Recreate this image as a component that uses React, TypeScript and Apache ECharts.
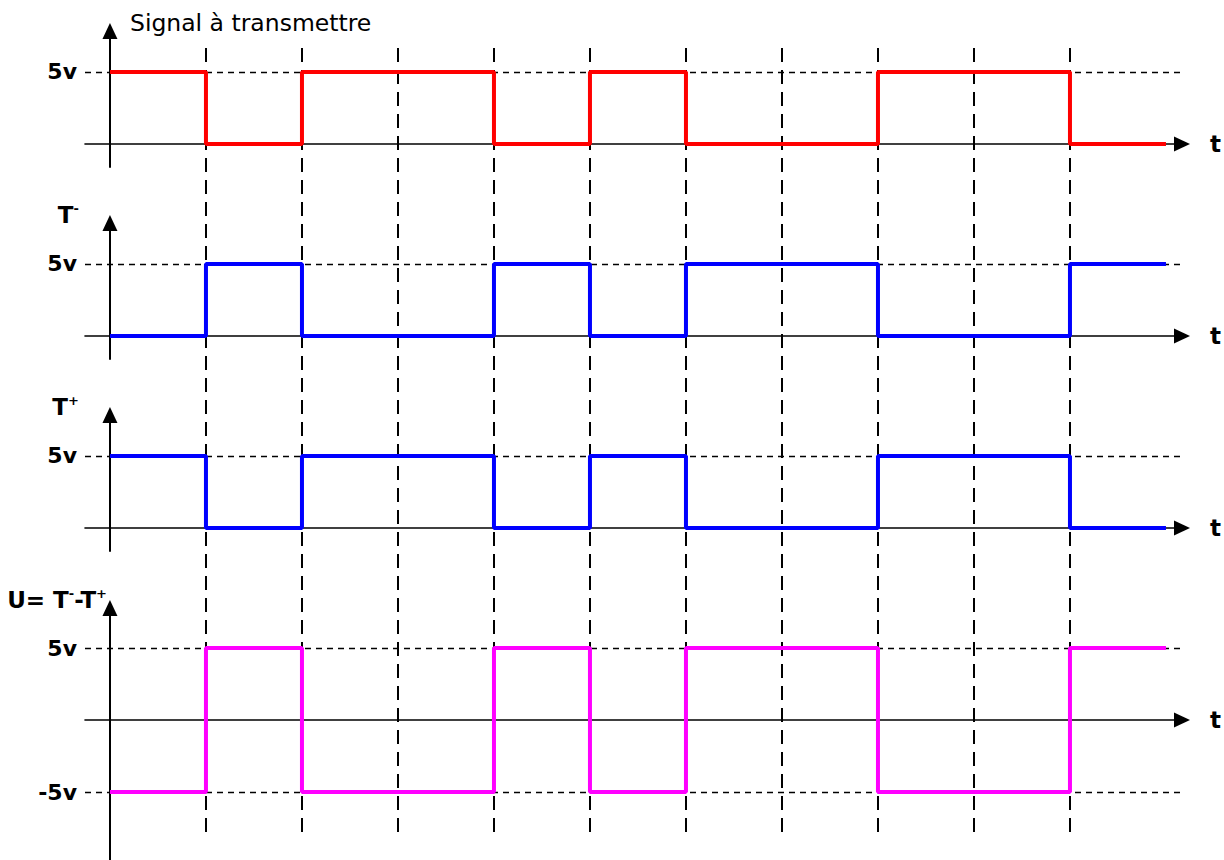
import React, { useEffect, useRef } from "react";
import * as echarts from "echarts";

// ---- data (volts per bit period) ----
const bitTimes = [0, 1, 2, 3, 4, 5, 6, 7, 8, 9, 10, 11];
const clockTicks = [1, 2, 3, 4, 5, 6, 7, 8, 9, 10];
const signalValues = [5, 0, 5, 5, 0, 5, 0, 0, 5, 5, 0];
const tMinusValues = [0, 5, 0, 0, 5, 0, 5, 5, 0, 0, 5];
const tPlusValues = [5, 0, 5, 5, 0, 5, 0, 0, 5, 5, 0];
const uValues = [-5, 5, -5, -5, 5, -5, 5, 5, -5, -5, 5];
const levelLabels = ["5v", "-5v"];
const levelValues = [5, -5];
const panelNames = [
  "Signal à transmettre",
  "{m|T}{s|-}",
  "{m|T}{s|+}",
  "{m|U= T}{s|-}{m|-T}{s|+}",
];
const timeName = "t";

const FONT = "DejaVu Sans";
const X_MIN = -0.26;
const X_MAX = 11.167;
const DASH_END = 11.15;

function toPoints(values: number[]) {
  const pts = values.map((v, i) => [bitTimes[i], v]);
  pts.push([bitTimes[values.length], values[values.length - 1]]);
  return pts;
}

export default function App() {
  const ref = useRef<HTMLDivElement>(null);
  useEffect(() => {
    if (!ref.current) return;
    const chart = echarts.init(ref.current, null, { renderer: "svg" });

    const panels = [
      { top: 31, height: 136, min: -1.597, max: 7.847, values: signalValues, color: "#ff0000", levels: [0] },
      { top: 223, height: 136, min: -1.597, max: 7.847, values: tMinusValues, color: "#0000ff", levels: [0] },
      { top: 415, height: 136, min: -1.597, max: 7.847, values: tPlusValues, color: "#0000ff", levels: [0] },
      { top: 608, height: 252, min: -9.722, max: 7.778, values: uValues, color: "#ff00ff", levels: [0, 1] },
    ];

    const grids: any[] = panels.map((p) => ({
      left: 85,
      right: 42,
      top: p.top,
      height: p.height,
      containLabel: false,
    }));
    grids.push({ left: 85, right: 42, top: 47, bottom: 28, containLabel: false });

    const xAxes: any[] = panels.map((p, i) => ({
      gridIndex: i,
      type: "value",
      min: X_MIN,
      max: X_MAX,
      axisLine: {
        show: true,
        onZero: true,
        symbol: ["none", "triangle"],
        symbolSize: [15, 16],
        lineStyle: { color: "#000", width: 1.6 },
      },
      axisTick: { show: false },
      axisLabel: { show: false },
      splitLine: { show: false },
      name: timeName,
      nameLocation: "end",
      nameGap: 28,
      nameTextStyle: { fontFamily: FONT, fontWeight: "bold", fontSize: 23, color: "#000" },
    }));
    xAxes.push({
      gridIndex: 4,
      type: "value",
      min: X_MIN,
      max: X_MAX,
      show: false,
    });

    const yAxes: any[] = panels.map((p, i) => {
      const isTitle = i === 0;
      return {
        gridIndex: i,
        type: "value",
        min: p.min,
        max: p.max,
        axisLine: {
          show: true,
          onZero: true,
          symbol: ["none", "triangle"],
          symbolSize: [15, 16],
          lineStyle: { color: "#000", width: 2 },
        },
        axisTick: { show: false },
        axisLabel: { show: false },
        splitLine: { show: false },
        name: panelNames[i],
        nameLocation: "end",
        nameGap: 8,
        nameTextStyle: isTitle
          ? {
              fontFamily: FONT,
              fontSize: 23.5,
              color: "#000",
              align: "left",
              verticalAlign: "middle",
              padding: [0, 0, 0, 20],
            }
          : {
              fontFamily: FONT,
              color: "#000",
              align: "right",
              verticalAlign: "middle",
              padding: [0, i === 3 ? 3 : 31, 0, 0],
              rich: {
                m: { fontFamily: FONT, fontWeight: "bold", fontSize: 23, color: "#000", lineHeight: 26, verticalAlign: "middle" },
                s: { fontFamily: FONT, fontWeight: "bold", fontSize: 13, color: "#000", lineHeight: 26, verticalAlign: "top" },
              },
            },
      };
    });
    yAxes.push({ gridIndex: 4, type: "value", min: 0, max: 1, show: false });

    const series: any[] = panels.map((p, i) => ({
      type: "line",
      xAxisIndex: i,
      yAxisIndex: i,
      step: "end",
      symbol: "none",
      z: 5,
      lineStyle: { color: p.color, width: 4 },
      data: toPoints(p.values),
      markLine: {
        silent: true,
        symbol: ["none", "none"],
        z: 2,
        lineStyle: { color: "#000", type: [6, 5], width: 1.4 },
        label: {
          show: true,
          position: "start",
          distance: 8,
          fontFamily: FONT,
          fontWeight: "bold",
          fontSize: 22,
          color: "#000",
          formatter: (prm: any) => prm.name,
        },
        data: p.levels.map((li) => [
          { name: levelLabels[li], coord: [X_MIN, levelValues[li]] },
          { coord: [DASH_END, levelValues[li]] },
        ]),
      },
    }));

    series.push({
      type: "line",
      xAxisIndex: 4,
      yAxisIndex: 4,
      data: [],
      symbol: "none",
      z: 1,
      markLine: {
        silent: true,
        symbol: ["none", "none"],
        label: { show: false },
        lineStyle: { color: "#000", type: [14, 8], width: 2 },
        data: clockTicks.map((t) => ({ xAxis: t })),
      },
    });

    chart.setOption({
      animation: false,
      backgroundColor: "#fff",
      grid: grids,
      xAxis: xAxes,
      yAxis: yAxes,
      series,
    });
    return () => chart.dispose();
  }, []);

  return (
    <div
      ref={ref}
      style={{ position: "fixed", left: 0, top: 0, width: 1224, height: 860, background: "#fff" }}
    />
  );
}
